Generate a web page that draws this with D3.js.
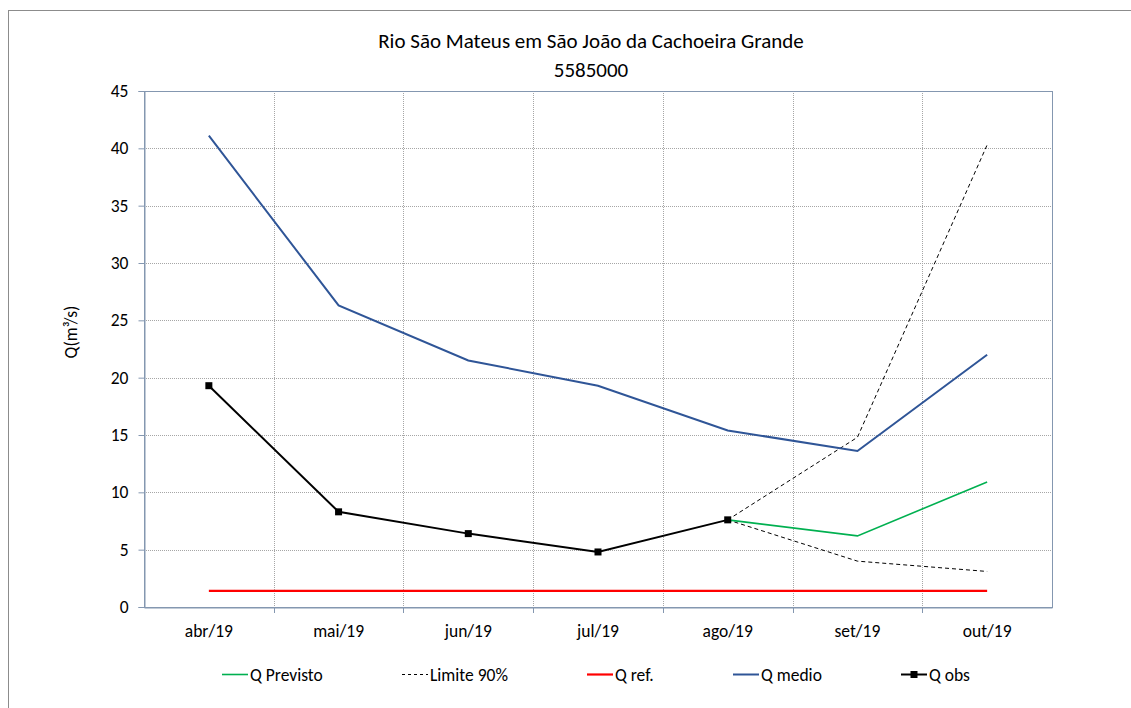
<!DOCTYPE html>
<html><head><meta charset="utf-8">
<script src="https://cdn.jsdelivr.net/npm/d3@7"></script>
<style>
body{margin:0;background:#fff;}
text{font-family:Carlito,Lato,"Open Sans",sans-serif;fill:#000;}
</style></head><body>
<svg id="c" width="1131" height="708"></svg>
<script>
const categories = ["abr/19","mai/19","jun/19","jul/19","ago/19","set/19","out/19"];
const qMedio = [41.1, 26.3, 21.5, 19.3, 15.4, 13.6, 22.0];
const qObs = [19.3, 8.3, 6.4, 4.8, 7.6, null, null];
const qPrevisto = [null, null, null, null, 7.6, 6.2, 10.9];
const lim90Sup = [null, null, null, null, 7.6, 14.8, 40.3];
const lim90Inf = [null, null, null, null, 7.6, 4.0, 3.1];
const qRef = [1.4, 1.4, 1.4, 1.4, 1.4, 1.4, 1.4];
const yTicks = [0,5,10,15,20,25,30,35,40,45];

const svg = d3.select("#c");
const L=144, R=1052, T=91, B=607;
svg.append("rect").attr("x",8.5).attr("y",10.5).attr("width",1140).attr("height",720)
  .attr("fill","none").attr("stroke","#8c8c8c");

const x = d3.scaleBand().domain(categories).range([L,R]);
const y = d3.scaleLinear().domain([0,45]).range([B,T]);

const g = svg.append("g");
g.selectAll(".hg").data(yTicks.filter(t=>t>0&&t<45)).join("line")
  .attr("x1",L).attr("x2",R).attr("y1",d=>Math.round(y(d))+0.5).attr("y2",d=>Math.round(y(d))+0.5)
  .attr("stroke","#a6a6a6").attr("stroke-dasharray","1,1");
g.selectAll(".vg").data(categories.slice(1)).join("line")
  .attr("x1",d=>Math.round(x(d))+0.5).attr("x2",d=>Math.round(x(d))+0.5).attr("y1",T).attr("y2",B)
  .attr("stroke","#a6a6a6").attr("stroke-dasharray","1,1");
svg.append("rect").attr("x",L+0.5).attr("y",T+0.5).attr("width",R-L).attr("height",B-T)
  .attr("fill","none").attr("stroke","#8497b0");

const ya = svg.append("g").attr("transform",`translate(${L+0.5},0)`)
  .call(d3.axisLeft(y).tickValues(yTicks).tickSize(6).tickPadding(10));
ya.select(".domain").attr("stroke","#8497b0");
ya.selectAll(".tick line").attr("stroke","#8497b0");
ya.selectAll("text").style("font-size","17.5px").attr("fill","#000");

const xa = svg.append("g").attr("transform",`translate(0,${B+0.5})`)
  .call(d3.axisBottom(x).tickSize(0).tickPadding(17));
xa.select(".domain").attr("stroke","#8497b0");
xa.selectAll("text").style("font-size","17.5px").attr("fill","#000");
svg.append("g").selectAll("line").data(categories.slice(1)).join("line")
  .attr("x1",d=>Math.round(x(d))+0.5).attr("x2",d=>Math.round(x(d))+0.5).attr("y1",B).attr("y2",B+6)
  .attr("stroke","#8497b0");

const cx = d=>x(d)+x.bandwidth()/2;
function mk(vals){return categories.map((c,i)=>({c,v:vals[i]})).filter(d=>d.v!=null);}
const line = d3.line().x(d=>cx(d.c)).y(d=>y(d.v));

svg.append("path").datum(mk(qRef)).attr("d",line).attr("fill","none").attr("stroke","#ff0000").attr("stroke-width",2.2);
svg.append("path").datum(mk(lim90Sup)).attr("d",line).attr("fill","none").attr("stroke","#000").attr("stroke-width",1).attr("stroke-dasharray","4,3");
svg.append("path").datum(mk(lim90Inf)).attr("d",line).attr("fill","none").attr("stroke","#000").attr("stroke-width",1).attr("stroke-dasharray","4,3");
svg.append("path").datum(mk(qPrevisto)).attr("d",line).attr("fill","none").attr("stroke","#00b050").attr("stroke-width",1.6);
svg.append("path").datum(mk(qMedio)).attr("d",line).attr("fill","none").attr("stroke","#2f5597").attr("stroke-width",2);
svg.append("path").datum(mk(qObs)).attr("d",line).attr("fill","none").attr("stroke","#000").attr("stroke-width",2);
svg.append("g").selectAll("rect").data(mk(qObs)).join("rect")
  .attr("x",d=>cx(d.c)-3.5).attr("y",d=>y(d.v)-3.5).attr("width",7).attr("height",7).attr("fill","#000");

svg.append("text").attr("x",591).attr("y",48).attr("text-anchor","middle").style("font-size","21px").text("Rio São Mateus em São João da Cachoeira Grande");
svg.append("text").attr("x",591).attr("y",77).attr("text-anchor","middle").style("font-size","21px").text("5585000");
svg.append("text").attr("transform","translate(77,332) rotate(-90)").attr("text-anchor","middle").style("font-size","17.5px").text("Q(m³/s)");

const leg = [
  {n:"Q Previsto", x:222, c:"#00b050", w:1.6, dash:null, m:false},
  {n:"Limite 90%", x:402, c:"#000", w:1, dash:"3,3", m:false},
  {n:"Q ref.", x:587, c:"#ff0000", w:2.2, dash:null, m:false},
  {n:"Q medio", x:733, c:"#2f5597", w:2, dash:null, m:false},
  {n:"Q obs", x:901, c:"#000", w:2, dash:null, m:true}
];
const lg = svg.append("g").selectAll("g").data(leg).join("g");
lg.append("line").attr("x1",d=>d.x).attr("x2",d=>d.x+26).attr("y1",674.5).attr("y2",674.5)
  .attr("stroke",d=>d.c).attr("stroke-width",d=>d.w).attr("stroke-dasharray",d=>d.dash);
lg.filter(d=>d.m).append("rect").attr("x",d=>d.x+9.5).attr("y",671).attr("width",7).attr("height",7).attr("fill","#000");
lg.append("text").attr("x",d=>d.x+28).attr("y",680.5).style("font-size","17.5px").text(d=>d.n);
</script></body></html>
